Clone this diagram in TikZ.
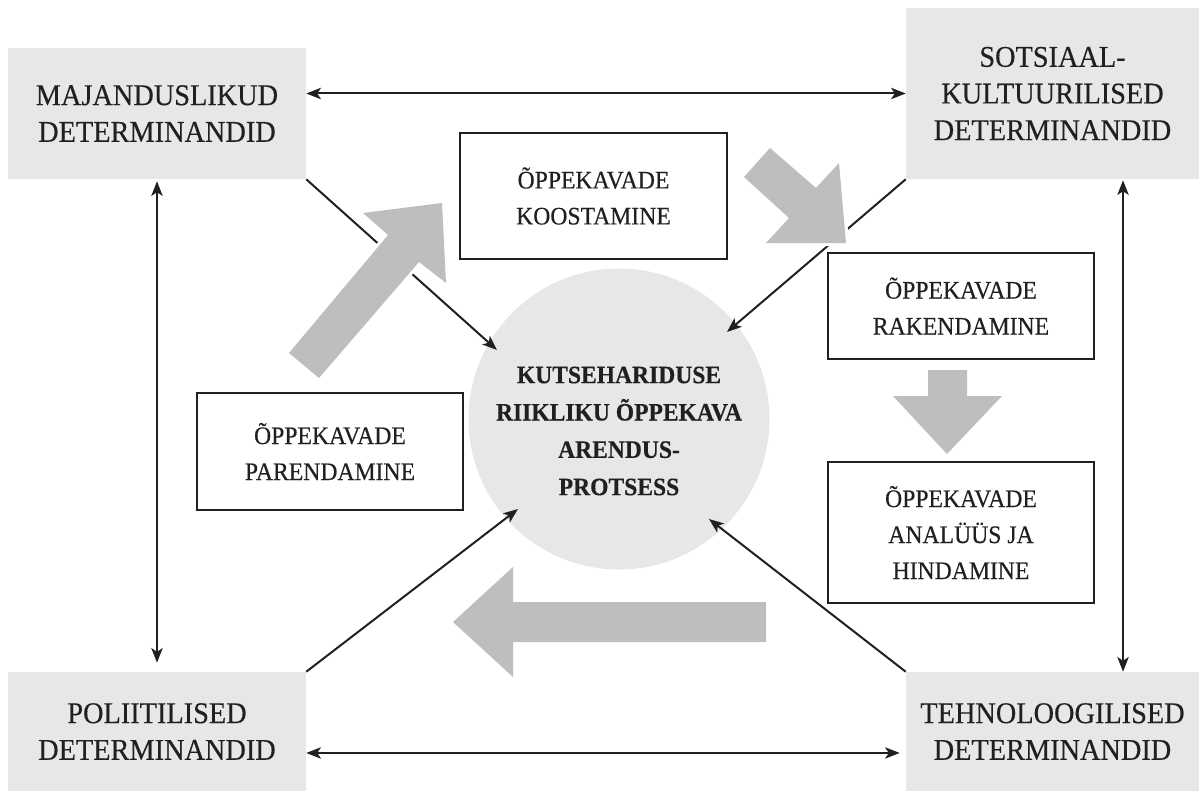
\documentclass[tikz,border=0pt]{standalone}
\usepackage{fontspec}
\setmainfont{Liberation Serif}[FakeStretch=0.94, FakeBold=0.35]
\usetikzlibrary{arrows.meta,calc}
\definecolor{detgray}{HTML}{E6E7E8}
\definecolor{flowgray}{HTML}{BCBEC0}
\definecolor{ink}{HTML}{231F20}
\begin{document}
\begin{tikzpicture}[x=0.75pt,y=-0.75pt,
  >={Stealth[length=11pt,width=8.5pt,inset=2.8pt]},
  detbox/.style={fill=detgray, inner sep=0pt, align=center, text=ink,
    font=\fontsize{22.6}{27.5}\selectfont},
  stagebox/.style={draw=ink, line width=0.8pt, fill=white, inner sep=0pt,
    align=center, text=ink, font=\fontsize{18.9}{27}\selectfont},
  core/.style={circle, fill=detgray, inner sep=0pt, minimum size=225.75pt},
  coretext/.style={align=center, text=ink, inner sep=0pt,
    font=\bfseries\fontsize{18.8}{28}\selectfont},
  link/.style={draw=ink, line width=1.5pt, ->},
  twoway/.style={draw=ink, line width=1.5pt, <->},
  flow/.style={fill=flowgray, preaction={draw=white, line width=4.5pt}}
]
\useasboundingbox (0,0) rectangle (1203,799);

% determinant boxes in the four corners
\node[detbox, minimum width=223.5pt, minimum height=98.25pt] (majandus) at (157,113.5)
  {MAJANDUSLIKUD\\DETERMINANDID};
\node[detbox, minimum width=219.75pt, minimum height=128.25pt] (sotsiaal) at (1052.5,93.5)
  {SOTSIAAL-\\KULTUURILISED\\DETERMINANDID};
\node[detbox, minimum width=223.5pt, minimum height=89.25pt] (poliit) at (157,731.5)
  {POLIITILISED\\DETERMINANDID};
\node[detbox, minimum width=219.75pt, minimum height=89.25pt] (tehno) at (1052.5,731.5)
  {TEHNOLOOGILISED\\DETERMINANDID};

% central process
\node[core] (core) at (619,419) {};
\node[coretext] (coretxt) at ($(core.center)+(0,12)$)
  {KUTSEHARIDUSE\\RIIKLIKU ÕPPEKAVA\\ARENDUS-\\PROTSESS};

% links between the determinants
\draw[twoway] (sotsiaal.west) -- (sotsiaal.west -| majandus.east);
\draw[twoway, shorten <=4.5pt] ([yshift=-16.1pt]tehno.west) -- ([yshift=-16.1pt]tehno.west -| poliit.east);
\draw[twoway, shorten <=1.5pt, shorten >=6.75pt] (majandus.south) -- (majandus.south |- poliit.north);
\draw[twoway, shorten <=0.75pt] ([xshift=52.9pt]sotsiaal.south) -- ([xshift=52.9pt]sotsiaal.south |- tehno.north);

% influences on the central process
\draw[link] (majandus.south east) -- ($(core.center)+(-122,-69)$);
\draw[link] (sotsiaal.south west) -- ($(core.center)+(108,-87)$);
\draw[link] (poliit.north east) -- ($(core.center)+(-101,90)$);
\draw[link] (tehno.north west) -- ($(core.center)+(90,100)$);

% curriculum cycle stages
\node[stagebox, minimum width=200.25pt, minimum height=94.5pt] (koost) at (593.5,196)
  {ÕPPEKAVADE\\KOOSTAMINE};
\node[stagebox, minimum width=199.5pt, minimum height=79.5pt] (rakend) at (961,306)
  {ÕPPEKAVADE\\RAKENDAMINE};
\node[stagebox, minimum width=199.5pt, minimum height=105.75pt] (analuus) at (961,532.5)
  {ÕPPEKAVADE\\ANALÜÜS JA\\HINDAMINE};
\node[stagebox, minimum width=199.5pt, minimum height=87.75pt] (parend) at (330,451.5)
  {ÕPPEKAVADE\\PARENDAMINE};

% block arrows of the cycle
\path[flow] (289,353) -- (388,235) -- (363,213) -- (442,203) -- (446,283) -- (419,262) -- (319,378) -- cycle;
\path[flow] (744,177) -- (770,148) -- (816,188) -- (839,163) -- (846,243) -- (766,243) -- (789,218) -- cycle;
\path[flow] (928,370) -- (967,370) -- (967,396) -- (1002,396) -- (947,454) -- (893,396) -- (928,396) -- cycle;
\path[flow] (766,602) -- (513,602) -- (513,567) -- (453,622) -- (513,677) -- (513,642) -- (766,642) -- cycle;
\end{tikzpicture}
\end{document}
